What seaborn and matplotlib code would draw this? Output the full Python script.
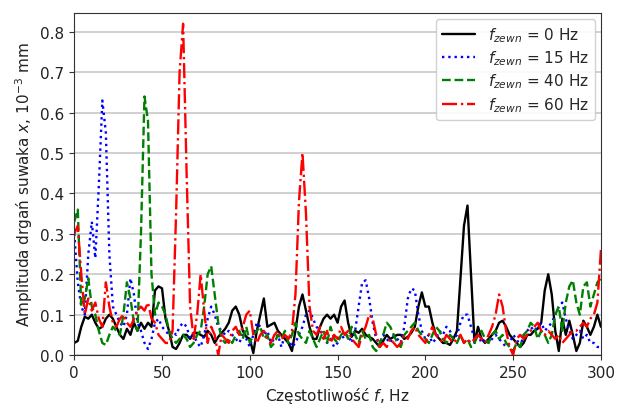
import numpy as np
import pandas as pd
import seaborn as sns
import matplotlib.pyplot as plt

# frequency grid, Hz (step 2 Hz)
freq = np.arange(0, 301, 2)

amp_0hz = [0.03, 0.035, 0.07, 0.095, 0.09, 0.1, 0.08, 0.065, 0.07, 0.09,
           0.1, 0.09, 0.07, 0.05, 0.04, 0.065, 0.05, 0.08, 0.06, 0.08,
           0.065, 0.08, 0.07, 0.16, 0.17, 0.165, 0.09, 0.06, 0.02, 0.015,
           0.03, 0.05, 0.05, 0.04, 0.055, 0.055, 0.05, 0.045, 0.06, 0.05,
           0.03, 0.045, 0.055, 0.065, 0.08, 0.11, 0.12, 0.1, 0.06, 0.045,
           0.04, 0.005, 0.06, 0.1, 0.14, 0.07, 0.075, 0.08, 0.06, 0.05,
           0.04, 0.03, 0.01, 0.06, 0.12, 0.15, 0.11, 0.07, 0.04, 0.04,
           0.07, 0.09, 0.1, 0.09, 0.1, 0.08, 0.12, 0.135, 0.08, 0.045,
           0.06, 0.055, 0.065, 0.05, 0.045, 0.04, 0.03, 0.02, 0.035, 0.05,
           0.04, 0.045, 0.05, 0.05, 0.04, 0.045, 0.055, 0.07, 0.12, 0.155,
           0.12, 0.12, 0.08, 0.05, 0.04, 0.03, 0.03, 0.025, 0.04, 0.06,
           0.19, 0.32, 0.37, 0.2, 0.03, 0.07, 0.04, 0.03, 0.04, 0.05,
           0.06, 0.08, 0.085, 0.07, 0.05, 0.04, 0.03, 0.02, 0.03, 0.05,
           0.05, 0.06, 0.065, 0.08, 0.16, 0.2, 0.15, 0.06, 0.01, 0.09,
           0.05, 0.085, 0.05, 0.01, 0.03, 0.085, 0.07, 0.05, 0.07, 0.1,
           0.07]

amp_15hz = [0.3, 0.18, 0.12, 0.1, 0.25, 0.33, 0.24, 0.42, 0.63, 0.55,
            0.25, 0.12, 0.1, 0.08, 0.07, 0.1, 0.19, 0.15, 0.08, 0.06,
            0.03, 0.015, 0.04, 0.08, 0.09, 0.07, 0.06, 0.05, 0.06, 0.05,
            0.07, 0.08, 0.07, 0.04, 0.05, 0.03, 0.02, 0.05, 0.09, 0.12,
            0.1, 0.07, 0.06, 0.05, 0.06, 0.05, 0.04, 0.03, 0.05, 0.04,
            0.02, 0.05, 0.08, 0.07, 0.05, 0.06, 0.03, 0.04, 0.05, 0.02,
            0.05, 0.04, 0.02, 0.03, 0.05, 0.07, 0.1, 0.11, 0.09, 0.07,
            0.06, 0.05, 0.03, 0.04, 0.02, 0.03, 0.05, 0.04, 0.05, 0.03,
            0.06, 0.12, 0.18, 0.185, 0.14, 0.08, 0.04, 0.03, 0.05, 0.04,
            0.03, 0.05, 0.04, 0.03, 0.07, 0.14, 0.165, 0.16, 0.1, 0.06,
            0.04, 0.05, 0.03, 0.04, 0.06, 0.05, 0.07, 0.06, 0.04, 0.05,
            0.08, 0.1, 0.1, 0.07, 0.04, 0.05, 0.03, 0.04, 0.03, 0.04,
            0.05, 0.04, 0.03, 0.02, 0.03, 0.05, 0.04, 0.02, 0.05, 0.06,
            0.07, 0.06, 0.07, 0.08, 0.06, 0.07, 0.08, 0.1, 0.12, 0.13,
            0.09, 0.06, 0.04, 0.05, 0.06, 0.04, 0.05, 0.03, 0.03, 0.02,
            0.02]

amp_40hz = [0.33, 0.36, 0.12, 0.14, 0.19, 0.12, 0.1, 0.06, 0.03, 0.025,
            0.05, 0.07, 0.06, 0.05, 0.1, 0.18, 0.14, 0.08, 0.06, 0.3,
            0.64, 0.58, 0.2, 0.1, 0.13, 0.12, 0.1, 0.06, 0.04, 0.03,
            0.04, 0.05, 0.04, 0.02, 0.03, 0.05, 0.06, 0.12, 0.2, 0.22,
            0.15, 0.08, 0.04, 0.03, 0.04, 0.03, 0.05, 0.06, 0.04, 0.07,
            0.03, 0.05, 0.06, 0.07, 0.04, 0.05, 0.02, 0.03, 0.05, 0.04,
            0.06, 0.03, 0.05, 0.08, 0.05, 0.04, 0.03, 0.06, 0.04, 0.02,
            0.04, 0.06, 0.03, 0.07, 0.04, 0.03, 0.05, 0.06, 0.04, 0.07,
            0.05, 0.03, 0.06, 0.04, 0.05, 0.02, 0.01, 0.03, 0.05, 0.08,
            0.07, 0.05, 0.03, 0.02, 0.05, 0.06, 0.07, 0.08, 0.06, 0.05,
            0.04, 0.03, 0.05, 0.07, 0.06, 0.04, 0.03, 0.05, 0.04, 0.03,
            0.05, 0.03, 0.04, 0.02, 0.03, 0.05, 0.06, 0.04, 0.03, 0.05,
            0.06, 0.04, 0.05, 0.03, 0.02, 0.01, 0.03, 0.02, 0.05, 0.06,
            0.08, 0.07, 0.04, 0.06, 0.05, 0.03, 0.05, 0.1, 0.12, 0.06,
            0.13, 0.17, 0.185, 0.13, 0.1, 0.17, 0.18, 0.12, 0.15, 0.18,
            0.19]

amp_60hz = [0.3, 0.32, 0.2, 0.1, 0.14, 0.11, 0.13, 0.09, 0.07, 0.18,
            0.12, 0.08, 0.07, 0.09, 0.1, 0.08, 0.07, 0.09, 0.11, 0.12,
            0.11, 0.13, 0.09, 0.08, 0.05, 0.04, 0.03, 0.03, 0.06, 0.35,
            0.7, 0.82, 0.45, 0.12, 0.04, 0.1, 0.2, 0.11, 0.03, 0.07,
            0.05, 0.0, 0.05, 0.04, 0.03, 0.06, 0.07, 0.05, 0.07, 0.1,
            0.11, 0.05, 0.03, 0.05, 0.06, 0.04, 0.03, 0.05, 0.06, 0.04,
            0.05, 0.04, 0.06, 0.15, 0.38, 0.5, 0.35, 0.12, 0.06, 0.05,
            0.07, 0.04, 0.06, 0.03, 0.05, 0.04, 0.07, 0.05, 0.06, 0.04,
            0.03, 0.02, 0.05, 0.07, 0.1, 0.09, 0.05, 0.02, 0.03, 0.02,
            0.04, 0.03, 0.02, 0.03, 0.05, 0.04, 0.06, 0.07, 0.05, 0.04,
            0.03, 0.05, 0.07, 0.05, 0.04, 0.03, 0.05, 0.04, 0.03, 0.04,
            0.05, 0.03, 0.04, 0.03, 0.04, 0.05, 0.04, 0.03, 0.05, 0.07,
            0.1, 0.15, 0.12, 0.06, 0.02, 0.0, 0.04, 0.05, 0.04, 0.05,
            0.06, 0.07, 0.08, 0.06, 0.05, 0.06, 0.05, 0.04, 0.05, 0.03,
            0.04, 0.05, 0.06, 0.06, 0.07, 0.08, 0.07, 0.09, 0.1, 0.13,
            0.26]

labels = ['$f_{zewn}$ = 0 Hz', '$f_{zewn}$ = 15 Hz',
          '$f_{zewn}$ = 40 Hz', '$f_{zewn}$ = 60 Hz']
series = [amp_0hz, amp_15hz, amp_40hz, amp_60hz]
colors = ['black', 'blue', 'green', 'red']
styles = ['-', ':', '--', '-.']

sns.set_style('ticks')
plt.rcParams['font.family'] = ['DejaVu Sans']
plt.rcParams['font.size'] = 11

fig, ax = plt.subplots(figsize=(6.24, 4.06), dpi=100)
fig.subplots_adjust(left=0.119, right=0.963, top=0.966, bottom=0.123)

for amp, lab, c, ls in zip(series, labels, colors, styles):
    df = pd.DataFrame({'f': freq, 'a': amp})
    sns.lineplot(data=df, x='f', y='a', ax=ax, color=c, linestyle=ls,
                 linewidth=1.7, label=lab, estimator=None, sort=False)

ax.set_xlim(0, 300)
ax.set_ylim(0, 0.847)
ax.set_xticks([0, 50, 100, 150, 200, 250, 300])
ax.set_yticks([0.0, 0.1, 0.2, 0.3, 0.4, 0.5, 0.6, 0.7, 0.8])
ax.yaxis.set_major_formatter(plt.FormatStrFormatter('%.1f'))
ax.tick_params(labelsize=11, color='#333333', labelcolor='#222222')
ax.grid(axis='y', color='#c8c8c8', linewidth=1.2)
ax.grid(axis='x', visible=False)
for s in ax.spines.values():
    s.set_visible(True)
    s.set_color('#333333')

ax.set_xlabel('Częstotliwość $f$, Hz', fontsize=11, color='#222222')
ax.set_ylabel('Amplituda drgań suwaka $x$, $10^{-3}$ mm', fontsize=11,
              color='#222222')
ax.legend(loc='upper right', fontsize=11, framealpha=0.9,
          labelspacing=0.3, handlelength=2.2, borderaxespad=0.4)

plt.savefig('out.png', dpi=100)
